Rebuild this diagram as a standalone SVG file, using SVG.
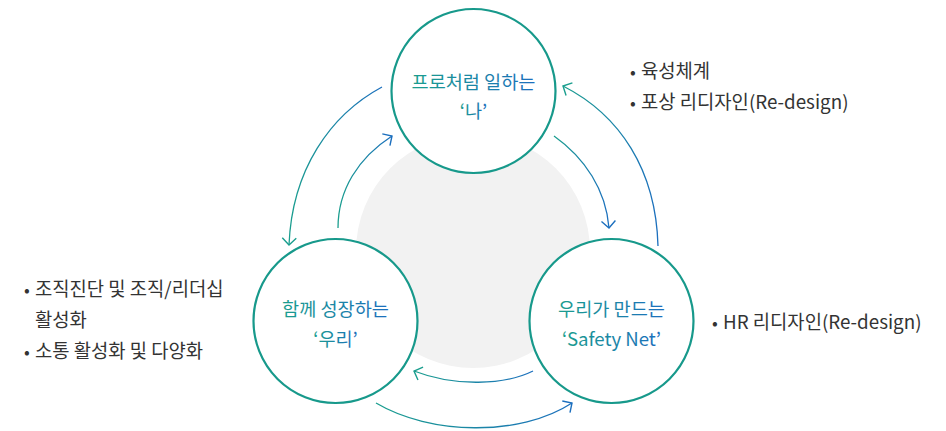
<svg xmlns="http://www.w3.org/2000/svg" width="946" height="431" viewBox="0 0 946 431">
<defs>
<linearGradient id="grad" x1="0" y1="0" x2="1" y2="0">
<stop offset="0" stop-color="#1a9e8e"/>
<stop offset="1" stop-color="#1c6fbe"/>
</linearGradient>
<marker id="ahT" viewBox="-10 -10 20 20" markerWidth="20" markerHeight="20" refX="0" refY="0" orient="auto" markerUnits="userSpaceOnUse">
<path d="M-7,-7 L0,0 L-7,7" fill="none" stroke="#1a9e8e" stroke-width="1.4"/>
</marker>
<marker id="ahB" viewBox="-10 -10 20 20" markerWidth="20" markerHeight="20" refX="0" refY="0" orient="auto" markerUnits="userSpaceOnUse">
<path d="M-7,-7 L0,0 L-7,7" fill="none" stroke="#1c6fbe" stroke-width="1.4"/>
</marker>
</defs>
<style>
.node circle{fill:#fff;stroke:#17998b;stroke-width:2.2}
.label{font-family:"Noto Sans CJK KR","Noto Sans",sans-serif;font-size:18.6px;text-anchor:middle;fill:url(#grad)}
.note{font-family:"Noto Sans CJK KR","Noto Sans",sans-serif;font-size:18.8px;fill:#333}
.bul{font-family:"Noto Sans CJK KR","Noto Sans",sans-serif;font-size:17px;fill:#333;text-anchor:middle}
.arr{fill:none;stroke:url(#grad);stroke-width:1.3}
</style>
<rect width="946" height="431" fill="#fff"/>
<circle cx="473" cy="251" r="117" fill="#f2f2f2"/>
<g id="connectors">
<path class="arr" d="M382,87 C330,115 292,170 289,245" marker-end="url(#ahT)"/>
<path class="arr" d="M338,228 C338,190 358,158 392,136" marker-end="url(#ahB)"/>
<path class="arr" d="M554,136 C585,158 606,190 609,228" marker-end="url(#ahB)"/>
<path class="arr" d="M658,246 C656,170 620,115 563,86" marker-end="url(#ahT)"/>
<path class="arr" d="M533,371 C505,385 455,387 414,371" marker-end="url(#ahT)"/>
<path class="arr" d="M376,403 C430,435 520,437 572,403" marker-end="url(#ahB)"/>
</g>
<g id="node-top" class="node">
<circle cx="473.5" cy="91" r="82"/>
<text class="label" x="473.5" y="89">프로처럼 일하는</text>
<text class="label" x="473.5" y="118">‘나’</text>
</g>
<g id="node-left" class="node">
<circle cx="335.5" cy="321" r="82"/>
<text class="label" x="335.5" y="316">함께 성장하는</text>
<text class="label" x="335.5" y="346">‘우리’</text>
</g>
<g id="node-right" class="node">
<circle cx="611.5" cy="321" r="82"/>
<text class="label" x="611.5" y="316">우리가 만드는</text>
<text class="label" x="611.5" y="346">‘Safety Net’</text>
</g>
<g id="notes-top-right">
<text class="bul" x="633" y="78">•</text>
<text class="note" x="641" y="78">육성체계</text>
<text class="bul" x="633" y="109">•</text>
<text class="note" x="641" y="109">포상 리디자인(Re-design)</text>
</g>
<g id="notes-left">
<text class="bul" x="27" y="296">•</text>
<text class="note" x="35" y="296">조직진단 및 조직/리더십</text>
<text class="note" x="35" y="327">활성화</text>
<text class="bul" x="27" y="358">•</text>
<text class="note" x="35" y="358">소통 활성화 및 다양화</text>
</g>
<g id="notes-right">
<text class="bul" x="715" y="329">•</text>
<text class="note" x="723" y="329">HR 리디자인(Re-design)</text>
</g>
</svg>
